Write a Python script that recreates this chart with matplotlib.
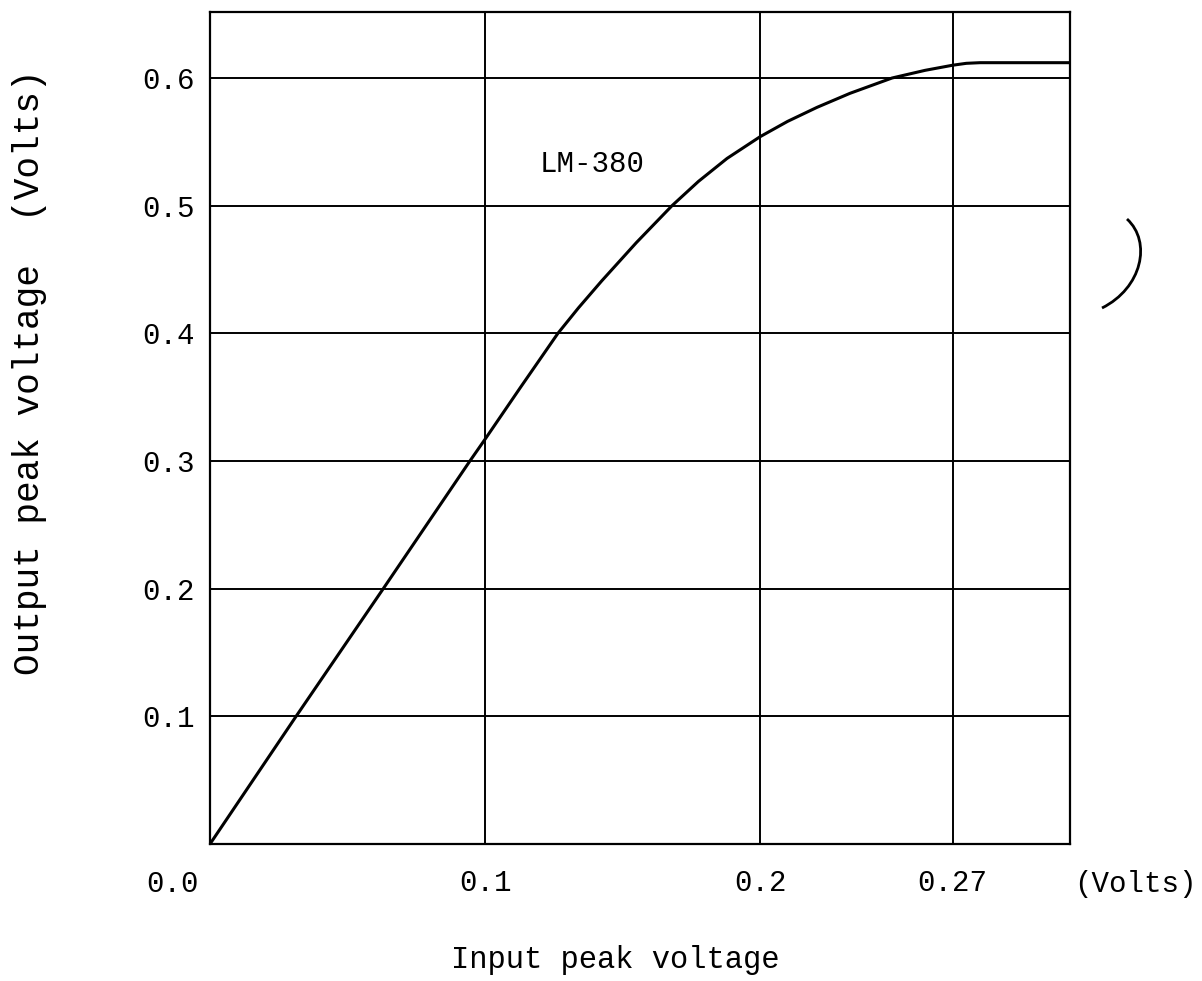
import numpy as np
import matplotlib
matplotlib.use("Agg")
import matplotlib.pyplot as plt
from matplotlib.path import Path
from matplotlib.patches import PathPatch

plt.rcParams['font.family'] = ['Liberation Mono', 'DejaVu Sans Mono']

# LM-380 transfer curve, input vs output peak voltage (volts)
vin = [0.0, 0.0313, 0.063, 0.0945, 0.100, 0.113, 0.1265, 0.134, 0.1424,
       0.155, 0.168, 0.1776, 0.188, 0.200, 0.210, 0.2207, 0.2327, 0.248,
       0.260, 0.270, 0.275, 0.280, 0.3127]
vout = [0.0, 0.100, 0.200, 0.300, 0.317, 0.358, 0.400, 0.420, 0.441,
        0.471, 0.500, 0.519, 0.537, 0.554, 0.566, 0.577, 0.588, 0.600,
        0.606, 0.610, 0.6115, 0.612, 0.612]

x_ticks = [0.1, 0.2, 0.27]
x_labels = ['0.1', '0.2', '0.27']
y_ticks = [0.1, 0.2, 0.3, 0.4, 0.5, 0.6]
y_labels = ['0.1', '0.2', '0.3', '0.4', '0.5', '0.6']

fs = 21

fig = plt.figure(figsize=(12.02, 9.81), dpi=100)
ax = fig.add_axes([210 / 1202, 137 / 981, 860 / 1202, 832 / 981])

for v in x_ticks:
    ax.axvline(v, color='black', lw=1.4)
for v in y_ticks:
    ax.axhline(v, color='black', lw=1.4)

ax.plot(vin, vout, color='black', lw=2.2, solid_joinstyle='round')

ax.set_xlim(0, 0.3127)
ax.set_ylim(0, 0.6517)
ax.set_xticks(x_ticks)
ax.set_xticklabels(x_labels, fontsize=fs)
ax.set_yticks(y_ticks)
ax.set_yticklabels(y_labels, fontsize=fs)
ax.tick_params(axis='both', length=0)
ax.tick_params(axis='x', pad=18)
ax.tick_params(axis='y', pad=11)
for s in ax.spines.values():
    s.set_linewidth(1.6)

ax.annotate('0.0', xy=(0, 0), xycoords='axes fraction', xytext=(-38, -40),
            textcoords='offset pixels', ha='center', va='center', fontsize=fs)
ax.annotate('(Volts)', xy=(1, 0), xycoords='axes fraction', xytext=(65, -40),
            textcoords='offset pixels', ha='center', va='center', fontsize=fs)
ax.text(0.139, 0.533, 'LM-380', fontsize=fs, ha='center', va='center')

fig.text(615 / 1202, 1 - 960 / 981, 'Input peak voltage', fontsize=22,
         ha='center', va='center')
fig.text(30 / 1202, 1 - 372 / 981, 'Output peak voltage  (Volts)', fontsize=26,
         ha='center', va='center', rotation=90)

# pencil bracket in the right margin (figure pixels)
W, H = 1202, 981
pts = [(1127, 219), (1152, 242), (1142, 288), (1102, 308)]
bracket = Path([(x / W, 1 - y / H) for x, y in pts],
               [Path.MOVETO, Path.CURVE4, Path.CURVE4, Path.CURVE4])
fig.patches.append(PathPatch(bracket, fill=False, lw=2, color='black',
                             transform=fig.transFigure))

fig.savefig('out.png', dpi=100, facecolor='white')
